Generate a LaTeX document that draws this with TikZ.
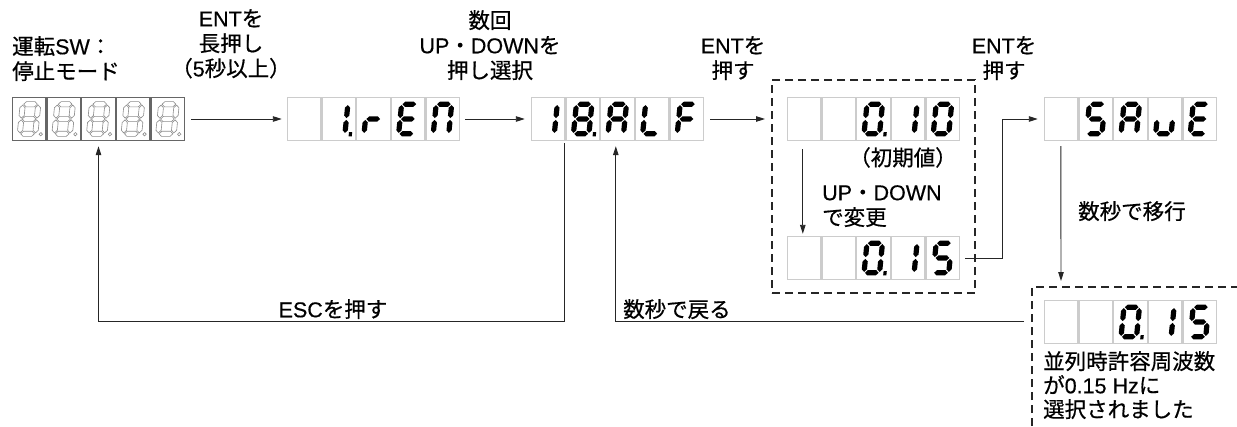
\documentclass[tikz,border=0pt]{standalone}
\usepackage{fontspec}
\setmainfont{Noto Sans CJK JP}[FakeBold=0.6]
\newfontfamily\lat{Liberation Sans}[FakeBold=0.4]
\usetikzlibrary{arrows.meta,calc}

% seven-segment pieces (local cell coordinates, y downwards)
\newcommand\SgA{\path[seg] (10.9,7.2)--(13.5,4.6)--(22.0,4.6)--(24.6,7.2)--(22.0,9.8)--(13.5,9.8)--cycle;}
\newcommand\SgG{\path[seg] (10.9,22)--(13.5,19.4)--(22.0,19.4)--(24.6,22)--(22.0,24.6)--(13.5,24.6)--cycle;}
\newcommand\SgD{\path[seg] (10.9,36.8)--(13.5,34.2)--(22.0,34.2)--(24.6,36.8)--(22.0,39.4)--(13.5,39.4)--cycle;}
\newcommand\SgF{\path[seg] (10,8.1)--(12.6,10.7)--(12.6,18.5)--(10,21.1)--(7.4,18.5)--(7.4,10.7)--cycle;}
\newcommand\SgE{\path[seg] (10,22.9)--(12.6,25.5)--(12.6,33.3)--(10,35.9)--(7.4,33.3)--(7.4,25.5)--cycle;}
\newcommand\SgB{\path[seg] (25.5,8.1)--(28.1,10.7)--(28.1,18.5)--(25.5,21.1)--(22.9,18.5)--(22.9,10.7)--cycle;}
\newcommand\SgC{\path[seg] (25.5,22.9)--(28.1,25.5)--(28.1,33.3)--(25.5,35.9)--(22.9,33.3)--(22.9,25.5)--cycle;}
\newcommand\SgP{\path[seg] (29.4,35.2) rectangle (32.6,39.4);}
\newcommand\SgPo{\path[seg] (31,37.2) circle (1.7);}

\newcommand\DgZero{\SgA\SgB\SgC\SgD\SgE\SgF}
\newcommand\DgOne{\SgB\SgC}
\newcommand\DgEight{\SgA\SgB\SgC\SgD\SgE\SgF\SgG}
\newcommand\DgFive{\SgA\SgF\SgG\SgC\SgD}
\newcommand\DgLA{\SgA\SgB\SgC\SgE\SgF\SgG}
\newcommand\DgLL{\SgD\SgE\SgF}
\newcommand\DgLF{\SgA\SgE\SgF\SgG}
\newcommand\DgLE{\SgA\SgD\SgE\SgF\SgG}
\newcommand\DgLN{\SgA\SgB\SgC\SgE\SgF}
\newcommand\DgLr{\SgE\SgG}
\newcommand\DgLu{\SgC\SgD\SgE}

\newcommand\DCell[3]{%
  \begin{scope}[shift={({#1},{#2})}]
    \path[cellframe] (0.6,0.6) rectangle (34,43.4);
    \begin{scope}[shift={(1.5,0)},xslant=0.1]#3\end{scope}
  \end{scope}}

\newcommand\Disp[8]{%
  \node[dispnode] (#1) at ({#2+86.5},{#3+22}) {};
  \DCell{#2}{#3}{#4}%
  \DCell{#2+34.6}{#3}{#5}%
  \DCell{#2+69.2}{#3}{#6}%
  \DCell{#2+103.8}{#3}{#7}%
  \DCell{#2+138.4}{#3}{#8}}

\begin{document}
\begin{tikzpicture}[x=1pt,y=-1pt,
  arr/.style={draw=black!85, line width=0.9pt, -{Triangle[length=9pt,width=5.5pt]}},
  dashbox/.style={draw=black!85, line width=2pt, dash pattern=on 8pt off 5pt},
  dispnode/.style={minimum width=173pt, minimum height=44pt, inner sep=0pt},
  lbl/.style={font=\fontsize{21.5}{25}\selectfont, inner sep=0pt, align=center},
  litcell/.style={draw=black!20, line width=1.2pt},
  darkcell/.style={draw=black!60, line width=1.1pt},
  onseg/.style={fill=black},
  ghostseg/.style={draw=black!45, line width=0.6pt, fill=white},
  seg/.style={onseg},
  cellframe/.style={litcell}]
\useasboundingbox[fill=white] (0,0) rectangle (1237,426);

% displays
\begin{scope}[seg/.style={ghostseg}, cellframe/.style={darkcell}]
\Disp{d1}{12}{97}{\DgEight\SgPo}{\DgEight\SgPo}{\DgEight\SgPo}{\DgEight\SgPo}{\DgEight\SgPo}
\end{scope}
\Disp{d2}{287}{97}{}{\DgOne\SgP}{\DgLr}{\DgLE}{\DgLN}
\Disp{d3}{531}{97}{\DgOne}{\DgEight\SgP}{\DgLA}{\DgLL}{\DgLF}
\Disp{d4}{787}{97}{}{}{\DgZero\SgP}{\DgOne}{\DgZero}
\Disp{d5}{787}{236}{}{}{\DgZero\SgP}{\DgOne}{\DgFive}
\Disp{d6}{1044}{97}{}{\DgFive}{\DgLA}{\DgLu}{\DgLE}
\Disp{d7}{1044}{300}{}{}{\DgZero\SgP}{\DgOne}{\DgFive}

% dashed groups
\node[dashbox, minimum width=203pt, minimum height=213pt, inner sep=0pt] (box1) at (873.5,186.5) {};
\coordinate (box2) at (1032,287);
\draw[dashbox] ($(box2)+(0,139)$) -- (box2) -- ($(box2)+(205,0)$);

% labels
\node[lbl, anchor=north west, align=left] (l1) at (12,36) {運転{\lat SW}：\\停止モード};
\node[lbl, anchor=north] (l2) at (231,9) {{\lat ENT}を\\長押し\\（{\lat 5}秒以上）};
\node[lbl, anchor=north] (l3) at (490,10) {数回\\{\lat UP}・{\lat DOWN}を\\押し選択};
\node[lbl, anchor=north] (l4) at (733,36) {{\lat ENT}を\\押す};
\node[lbl, anchor=north] (l5) at (1004,36) {{\lat ENT}を\\押す};
\node[lbl, anchor=north] (l6) at (903,147) {（初期値）};
\node[lbl, anchor=north west, align=left] (l7) at (822,185) {{\lat UP}・{\lat DOWN}\\で変更};
\node[lbl, anchor=north west] (l8) at (1078,201) {数秒で移行};
\node[lbl, anchor=north] (l9) at (333,299) {{\lat ESC}を押す};
\node[lbl, anchor=north west] (l10) at (623,299) {数秒で戻る};
\node[lbl, anchor=north west, align=left, font=\fontsize{21.5}{24}\selectfont] (l11) at (1043,351) {並列時許容周波数\\が{\lat 0.15 Hz}に\\選択されました};

% connectors
\draw[arr] ([xshift=6pt]d1.east) -- ([xshift=-5pt]d2.west);
\draw[arr] ([xshift=5pt]d2.east) -- ([xshift=-6pt]d3.west);
\draw[arr] ([xshift=6pt]d3.east) -- ($(box1.west |- d3.east)+(-6,0)$);
\draw[arr] ($(d4.south west)+(16,8)$) -- ($(d5.north west)+(16,-2)$);
\draw[arr] ([xshift=5pt]d5.east) -- ++(37,0) |- ([xshift=-6pt]d6.west);
\draw[arr] ($(d6.south west)+(17,5)$) -- ($(box2)+(29,-6)$);
\draw[arr] ($(d3.south west)+(34,2)$) |- ($(d1.south)+(0,180)$) -- ($(d1.south)+(0,5)$);
\draw[arr] ($(box2)+(-8,34.5)$) -| ($(d3.south west)+(85,5)$);
\end{tikzpicture}
\end{document}
